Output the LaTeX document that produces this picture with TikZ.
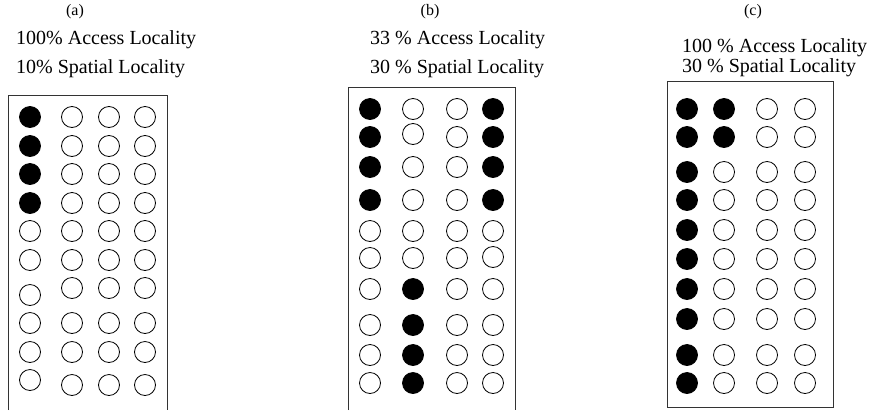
\documentclass[tikz,border=0pt]{standalone}
\usepackage{fontspec}
\setmainfont{Liberation Serif}
\begin{document}
\begin{tikzpicture}[x=1pt,y=-1pt,
  dot/.style={circle,draw=black,line width=0.8pt,minimum size=21pt,inner sep=0pt},
  lbl/.style={anchor=base,inner sep=0pt,font=\fontsize{16}{19}\selectfont},
  captext/.style={anchor=base west,inner sep=0pt,font=\fontsize{20}{24}\selectfont},
  boxline/.style={draw=black!80,line width=0.9pt}]
\useasboundingbox (0,0) rectangle (869,410);
% ---------- panel (a)
\node[lbl] (la) at (75,15) {(a)};
\node[captext] (a1) at (16,44) {100\% Access Locality};
\node[captext] (a2) at (16,73) {10\% Spatial Locality};
\draw[boxline] (8,410) |- (167,95) -- (167,410);
\foreach \y/\c [count=\r] in {117/black,146/black,174/black,203/black,231/white,260/white,295/white,323/white,352/white,380/white}
  \node[dot,fill=\c] (a-\r-1) at (30,\y) {};
\foreach \x [count=\k from 2] in {72,109,145}
  \foreach \y [count=\r] in {117,146,174,203,231,260,288,323,352,385}
    \node[dot,fill=white] (a-\r-\k) at (\x,\y) {};
% ---------- panel (b)
\node[lbl] (lb) at (430,15) {(b)};
\node[captext] (b1) at (370,44) {33 \% Access Locality};
\node[captext] (b2) at (370,73) {30 \% Spatial Locality};
\draw[boxline] (348,410) |- (515,87) -- (515,410);
\foreach \y/\c [count=\r] in {109/black,137/black,167/black,200/black,231/white,258/white,289/white,325/white,355/white,383/white}
  \node[dot,fill=\c] (b-\r-1) at (370,\y) {};
\foreach \y/\c [count=\r] in {109/white,134/white,167/white,200/white,231/white,258/white,289/black,325/black,355/black,383/black}
  \node[dot,fill=\c] (b-\r-2) at (413,\y) {};
\foreach \y/\c [count=\r] in {109/white,137/white,167/white,200/white,231/white,258/white,289/white,325/white,355/white,383/white}
  \node[dot,fill=\c] (b-\r-3) at (457,\y) {};
\foreach \y/\c [count=\r] in {109/black,137/black,167/black,200/black,231/white,257/white,289/white,325/white,355/white,383/white}
  \node[dot,fill=\c] (b-\r-4) at (493,\y) {};
% ---------- panel (c)
\node[lbl] (lc) at (753,15) {(c)};
\node[captext] (c1) at (682,52) {100 \% Access Locality};
\node[captext] (c2) at (682,72) {30 \% Spatial Locality};
\draw[boxline] (667,81) rectangle (833,407);
\foreach \y [count=\r] in {109,137,172,200,230,259,289,319,355,383}
  \node[dot,fill=black] (c-\r-1) at (687,\y) {};
\foreach \y/\c [count=\r] in {109/black,137/black,172/white,200/white,230/white,259/white,289/white,319/white,355/white,383/white}
  \node[dot,fill=\c] (c-\r-2) at (724,\y) {};
\foreach \x [count=\k from 3] in {767,805}
  \foreach \y [count=\r] in {109,137,172,200,230,259,289,319,355,383}
    \node[dot,fill=white] (c-\r-\k) at (\x,\y) {};
\end{tikzpicture}
\end{document}
